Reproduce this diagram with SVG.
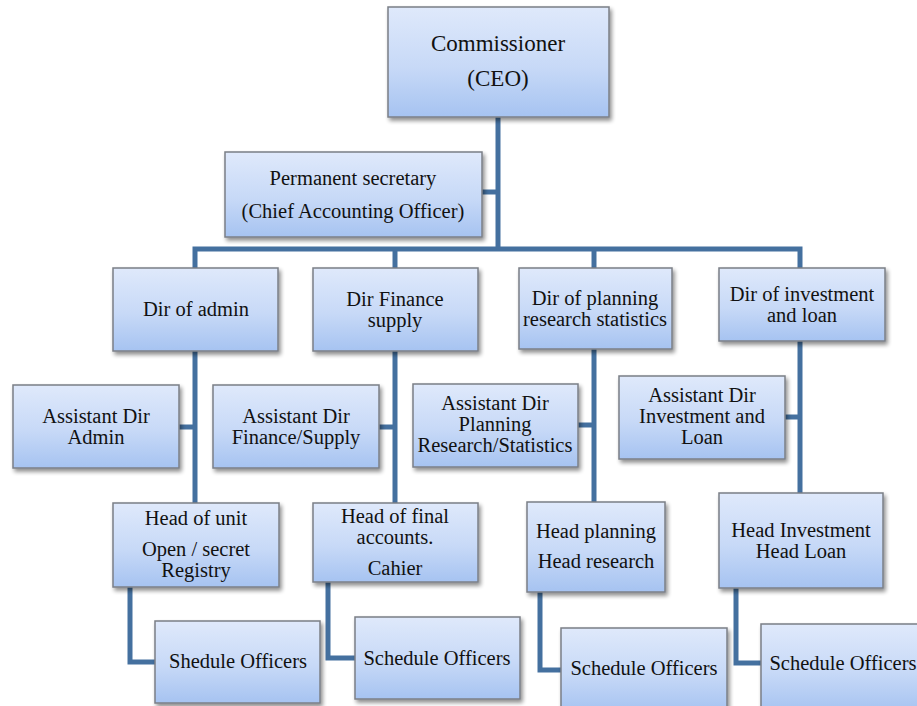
<svg xmlns="http://www.w3.org/2000/svg" width="917" height="706" viewBox="0 0 917 706">
  <defs>
    <linearGradient id="boxFill" x1="0" y1="0" x2="0" y2="1">
      <stop offset="0" stop-color="#dfe9fb"/>
      <stop offset="0.55" stop-color="#c7d9f7"/>
      <stop offset="1" stop-color="#a6c3f1"/>
    </linearGradient>
    <filter id="shadow" x="-10%" y="-10%" width="125%" height="130%">
      <feGaussianBlur in="SourceAlpha" stdDeviation="2"/>
      <feOffset dx="2" dy="3" result="blur"/>
      <feComponentTransfer><feFuncA type="linear" slope="0.45"/></feComponentTransfer>
      <feMerge><feMergeNode/><feMergeNode in="SourceGraphic"/></feMerge>
    </filter>
  </defs>
  <style>
    .box { fill: url(#boxFill); stroke: #7b7f86; stroke-width: 1.5; filter: url(#shadow); }
    .lbl { font-size: 20.5px; fill: #111; text-anchor: middle; }
    .big { font-size: 23px; }
    .link { fill: none; stroke: #44709f; stroke-width: 5; stroke-linejoin: miter; }
  </style>

  <rect width="917" height="706" fill="#ffffff"/>

  <!-- connectors -->
  <g id="connectors">
    <path class="link" d="M498,117 V249"/>
    <path class="link" d="M482,192 H498"/>
    <path class="link" d="M195,268 V249 H800 V268"/>
    <path class="link" d="M395,249 V268"/>
    <path class="link" d="M594,249 V268"/>
    <path class="link" d="M195,351 V503"/>
    <path class="link" d="M179,427 H195"/>
    <path class="link" d="M395,351 V503"/>
    <path class="link" d="M379,427 H395"/>
    <path class="link" d="M594,349 V502"/>
    <path class="link" d="M578,425 H594"/>
    <path class="link" d="M800,341 V493"/>
    <path class="link" d="M785,417 H800"/>
    <path class="link" d="M130,587 V662 H155"/>
    <path class="link" d="M328,582 V658 H355"/>
    <path class="link" d="M540,592 V670 H561"/>
    <path class="link" d="M736,588 V663 H761"/>
  </g>

  <g font-family="'Liberation Serif', 'DejaVu Serif', serif">
  <g id="commissioner">
    <rect class="box" x="388" y="7" width="221" height="110"/>
    <text class="lbl big" x="498" y="51">Commissioner</text>
    <text class="lbl big" x="498" y="86">(CEO)</text>
  </g>

  <g id="permanent-secretary">
    <rect class="box" x="225" y="152" width="257" height="85"/>
    <text class="lbl" x="353" y="185">Permanent secretary</text>
    <text class="lbl" x="353" y="218">(Chief Accounting Officer)</text>
  </g>

  <g id="dir-admin">
    <rect class="box" x="113" y="268" width="165" height="83"/>
    <text class="lbl" x="196" y="316">Dir of admin</text>
  </g>

  <g id="dir-finance">
    <rect class="box" x="313" y="268" width="165" height="83"/>
    <text class="lbl" x="395" y="306">Dir Finance</text>
    <text class="lbl" x="395" y="327">supply</text>
  </g>

  <g id="dir-planning">
    <rect class="box" x="519" y="268" width="153" height="81"/>
    <text class="lbl" x="595" y="305">Dir of planning</text>
    <text class="lbl" x="595" y="326">research statistics</text>
  </g>

  <g id="dir-investment">
    <rect class="box" x="719" y="268" width="166" height="73"/>
    <text class="lbl" x="802" y="301">Dir of investment</text>
    <text class="lbl" x="802" y="322">and loan</text>
  </g>

  <g id="asst-admin">
    <rect class="box" x="13" y="385" width="166" height="83"/>
    <text class="lbl" x="96" y="423">Assistant Dir</text>
    <text class="lbl" x="96" y="444">Admin</text>
  </g>

  <g id="asst-finance">
    <rect class="box" x="213" y="385" width="166" height="83"/>
    <text class="lbl" x="296" y="423">Assistant Dir</text>
    <text class="lbl" x="296" y="444">Finance/Supply</text>
  </g>

  <g id="asst-planning">
    <rect class="box" x="413" y="384" width="165" height="83"/>
    <text class="lbl" x="495" y="410">Assistant Dir</text>
    <text class="lbl" x="495" y="431">Planning</text>
    <text class="lbl" x="495" y="452">Research/Statistics</text>
  </g>

  <g id="asst-investment">
    <rect class="box" x="619" y="376" width="166" height="83"/>
    <text class="lbl" x="702" y="402">Assistant Dir</text>
    <text class="lbl" x="702" y="423">Investment and</text>
    <text class="lbl" x="702" y="444">Loan</text>
  </g>

  <g id="head-unit">
    <rect class="box" x="113" y="503" width="166" height="84"/>
    <text class="lbl" x="196" y="525">Head of unit</text>
    <text class="lbl" x="196" y="556">Open / secret</text>
    <text class="lbl" x="196" y="577">Registry</text>
  </g>

  <g id="head-final-accounts">
    <rect class="box" x="313" y="503" width="165" height="79"/>
    <text class="lbl" x="395" y="523">Head of final</text>
    <text class="lbl" x="395" y="544">accounts.</text>
    <text class="lbl" x="395" y="575">Cahier</text>
  </g>

  <g id="head-planning">
    <rect class="box" x="527" y="502" width="138" height="90"/>
    <text class="lbl" x="596" y="538">Head planning</text>
    <text class="lbl" x="596" y="568">Head research</text>
  </g>

  <g id="head-investment">
    <rect class="box" x="719" y="493" width="164" height="95"/>
    <text class="lbl" x="801" y="537">Head Investment</text>
    <text class="lbl" x="801" y="558">Head Loan</text>
  </g>

  <g id="officers-admin">
    <rect class="box" x="155" y="621" width="165" height="82"/>
    <text class="lbl" x="238" y="668">Shedule Officers</text>
  </g>

  <g id="officers-finance">
    <rect class="box" x="355" y="617" width="165" height="82"/>
    <text class="lbl" x="437" y="665">Schedule Officers</text>
  </g>

  <g id="officers-planning">
    <rect class="box" x="561" y="628" width="166" height="84"/>
    <text class="lbl" x="644" y="675">Schedule Officers</text>
  </g>

  <g id="officers-investment">
    <rect class="box" x="761" y="624" width="166" height="88"/>
    <text class="lbl" x="843" y="670">Schedule Officers</text>
  </g>
  </g>
</svg>
